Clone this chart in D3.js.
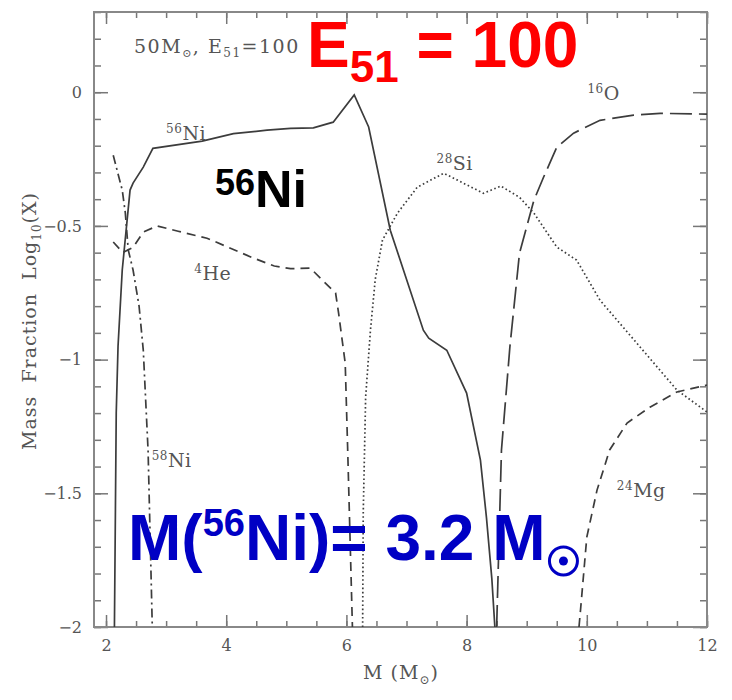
<!DOCTYPE html>
<html>
<head>
<meta charset="utf-8">
<script src="https://cdnjs.cloudflare.com/ajax/libs/d3/7.8.5/d3.min.js"></script>
<style>
  body { margin: 0; background: #fff; }
  svg { display: block; }
  .tick text { font-family: "DejaVu Serif", serif; font-size: 16px; fill: #555; }
  .domain { display: none; }
  .tick line { stroke: #777; stroke-width: 1.5; }
  .lbl { font-family: "DejaVu Serif", serif; font-size: 19px; fill: #555; letter-spacing: 0.5px; }
  .curve { fill: none; stroke: #3c3c3c; stroke-width: 1.7; }
</style>
</head>
<body>
<div id="chart"></div>
<script>

// mass coordinate (Msun) vs log10 mass fraction
var ni56 = [[2.14,-2],[2.17,-1.2],[2.2,-0.95],[2.27,-0.665],[2.4,-0.366],[2.45,-0.34],[2.62,-0.28],
            [2.78,-0.21],[3.6,-0.183],[4.12,-0.155],[4.68,-0.142],[5.07,-0.135],[5.45,-0.133],
            [5.78,-0.112],[6.13,-0.01],[6.37,-0.13],[6.73,-0.516],[7.28,-0.89],[7.37,-0.92],
            [7.67,-0.965],[8.0,-1.125],[8.23,-1.376],[8.33,-1.59],[8.42,-1.82],[8.47,-2]];
var he4 = [[2.12,-0.56],[2.28,-0.60],[2.45,-0.58],[2.62,-0.523],[2.85,-0.50],[3.2,-0.52],[3.68,-0.546],
           [4.45,-0.62],[4.8,-0.65],[5.07,-0.66],[5.4,-0.658],[5.65,-0.714],[5.82,-0.751],
           [5.87,-0.826],[5.98,-1.013],[6.02,-1.327],[6.1,-2]];
var ni58 = [[2.12,-0.236],[2.27,-0.366],[2.32,-0.449],[2.37,-0.59],[2.45,-0.665],[2.55,-0.8],
            [2.62,-0.965],[2.7,-1.34],[2.77,-2]];
var si28 = [[6.27,-2],[6.28,-1.574],[6.32,-1.14],[6.4,-0.89],[6.48,-0.70],[6.6,-0.553],[6.85,-0.452],
            [7.18,-0.355],[7.62,-0.303],[8.28,-0.378],[8.57,-0.351],[8.88,-0.393],[9.12,-0.452],
            [9.5,-0.579],[9.83,-0.628],[10.22,-0.778],[10.83,-0.938],[11.5,-1.114],[12.0,-1.196]];
var o16 = [[8.5,-2],[8.58,-1.338],[8.72,-0.953],[8.88,-0.602],[9.12,-0.404],[9.28,-0.318],[9.5,-0.206],
           [9.78,-0.153],[10.22,-0.105],[10.78,-0.086],[11.22,-0.079],[12.0,-0.082]];
var mg24 = [[9.87,-2],[9.9,-1.925],[10.0,-1.664],[10.17,-1.488],[10.38,-1.338],[10.67,-1.237],
            [11.05,-1.178],[11.5,-1.121],[12.0,-1.095]];

var xTicks = [2, 4, 6, 8, 10, 12];
var yTicks = [0, -0.5, -1, -1.5, -2];

function chart() {

  var width = 732, height = 700;
  var left = 94, right = 707, top = 12, bottom = 627;

  var svg = d3.select("#chart").append("svg")
      .attr("width", width)
      .attr("height", height);

  var x = d3.scaleLinear().domain([1.8, 12]).range([left, right]);
  var y = d3.scaleLinear().domain([-2, 0.3]).range([bottom, top]);

  svg.append("clipPath").attr("id", "plot")
    .append("rect")
      .attr("x", left).attr("y", top)
      .attr("width", right - left).attr("height", bottom - top);

  //ticks point inwards on all four sides, minor ones first
  var minorX = d3.range(2, 12.01, 0.5), minorY = d3.range(-2, 0.31, 0.1);
  var fmt = function(d) { return d == 0 ? "0" : "\u2212" + Math.abs(d); };

  svg.append("g").attr("transform", "translate(0," + bottom + ")")
    .call(d3.axisBottom(x).tickValues(minorX).tickSize(-6).tickFormat(""));
  svg.append("g").attr("transform", "translate(0," + top + ")")
    .call(d3.axisTop(x).tickValues(minorX).tickSize(-6).tickFormat(""));
  svg.append("g").attr("transform", "translate(" + left + ",0)")
    .call(d3.axisLeft(y).tickValues(minorY).tickSize(-7).tickFormat(""));
  svg.append("g").attr("transform", "translate(" + right + ",0)")
    .call(d3.axisRight(y).tickValues(minorY).tickSize(-7).tickFormat(""));

  svg.append("g").attr("transform", "translate(0," + bottom + ")")
    .call(d3.axisBottom(x).tickValues(xTicks).tickSize(-12).tickPadding(13).tickFormat(d3.format("d")));
  svg.append("g").attr("transform", "translate(0," + top + ")")
    .call(d3.axisTop(x).tickValues(xTicks).tickSize(-12).tickFormat(""));
  svg.append("g").attr("transform", "translate(" + left + ",0)")
    .call(d3.axisLeft(y).tickValues(yTicks).tickSize(-14).tickPadding(12).tickFormat(fmt));
  svg.append("g").attr("transform", "translate(" + right + ",0)")
    .call(d3.axisRight(y).tickValues(yTicks).tickSize(-14).tickFormat(""));

  svg.append("rect")
      .attr("x", left).attr("y", top)
      .attr("width", right - left).attr("height", bottom - top)
      .attr("fill", "none").attr("stroke", "#888").attr("stroke-width", 2);

  //curves
  var line = d3.line()
      .x(function(d) { return x(d[0]); })
      .y(function(d) { return y(d[1]); });

  var series = [
    { data: ni56, dash: null },
    { data: he4,  dash: "9,6" },
    { data: ni58, dash: "9,4,2,4" },
    { data: si28, dash: "1.6,2.6" },
    { data: o16,  dash: "22,7" },
    { data: mg24, dash: "9,6" }
  ];

  var g = svg.append("g").attr("clip-path", "url(#plot)");
  g.selectAll(".curve").data(series).enter().append("path")
      .attr("class", "curve")
      .attr("d", function(d) { return line(d.data); })
      .attr("stroke-dasharray", function(d) { return d.dash; });

  //isotope labels
  function iso(mass, elem, px, py) {
    var t = svg.append("text").attr("class", "lbl")
        .attr("x", x(px)).attr("y", y(py));
    t.append("tspan").attr("font-size", 12).attr("dy", -7).text(mass);
    t.append("tspan").attr("dy", 7).text(elem);
  }
  iso("56", "Ni", 3.0, -0.18);
  iso("4", "He", 3.47, -0.703);
  iso("28", "Si", 7.5, -0.292);
  iso("16", "O", 10.01, -0.03);
  iso("58", "Ni", 2.76, -1.402);
  iso("24", "Mg", 10.5, -1.515);

  //model label
  var m = svg.append("text").attr("class", "lbl")
      .attr("x", 134).attr("y", 53).style("letter-spacing", "1.5px");
  m.append("tspan").text("50M");
  m.append("tspan").attr("font-size", 11).attr("dy", 4).text("\u2299");
  m.append("tspan").attr("dy", -4).text(", E");
  m.append("tspan").attr("font-size", 12).attr("dy", 4).text("51");
  m.append("tspan").attr("dy", -4).text("=100");

  //axis titles
  var xl = svg.append("text").attr("class", "lbl")
      .attr("x", 401).attr("y", 679).attr("text-anchor", "middle")
      .style("letter-spacing", "1px");
  xl.append("tspan").text("M  (M");
  xl.append("tspan").attr("font-size", 12).attr("dy", 5).text("\u2299");
  xl.append("tspan").attr("dy", -5).text(")");

  var yl = svg.append("text").attr("class", "lbl")
      .attr("transform", "translate(36,321) rotate(-90)")
      .attr("text-anchor", "middle")
      .style("letter-spacing", "1px").style("word-spacing", "6px");
  yl.append("tspan").text("Mass Fraction Log");
  yl.append("tspan").attr("font-size", 12).attr("dy", 5).text("10");
  yl.append("tspan").attr("dy", -5).text("(X)");

  //big slide annotations
  var bold = "'Liberation Sans', Arial, sans-serif";

  var red = svg.append("text").attr("x", 307).attr("y", 67)
      .attr("font-family", bold).attr("font-weight", "bold").attr("fill", "#ff0000");
  red.append("tspan").attr("font-size", 64).text("E");
  red.append("tspan").attr("font-size", 44).attr("dy", 15).text("51");
  red.append("tspan").attr("font-size", 64).attr("dy", -15).text(" = 100");

  var blk = svg.append("text").attr("x", 215).attr("y", 207)
      .attr("font-family", bold).attr("font-weight", "bold").attr("fill", "#000");
  blk.append("tspan").attr("font-size", 36).attr("dy", -12).text("56");
  blk.append("tspan").attr("font-size", 52).attr("dy", 12).text("Ni");

  var blue = svg.append("text").attr("x", 128).attr("y", 560)
      .attr("font-family", bold).attr("font-weight", "bold").attr("fill", "#0000c4");
  blue.append("tspan").attr("font-size", 64).text("M(");
  blue.append("tspan").attr("font-size", 38).attr("dy", -24).text("56");
  blue.append("tspan").attr("font-size", 64).attr("dy", 24).text("Ni)= 3.2 M");

  //sun symbol drawn after the text
  var bb = blue.node().getBBox();
  var cx = bb.x + bb.width + 18, cy = 561;
  svg.append("circle").attr("cx", cx).attr("cy", cy).attr("r", 14)
      .attr("fill", "none").attr("stroke", "#0000c4").attr("stroke-width", 3);
  svg.append("circle").attr("cx", cx).attr("cy", cy).attr("r", 4.5)
      .attr("fill", "#0000c4");
}

chart();
</script>
</body>
</html>
